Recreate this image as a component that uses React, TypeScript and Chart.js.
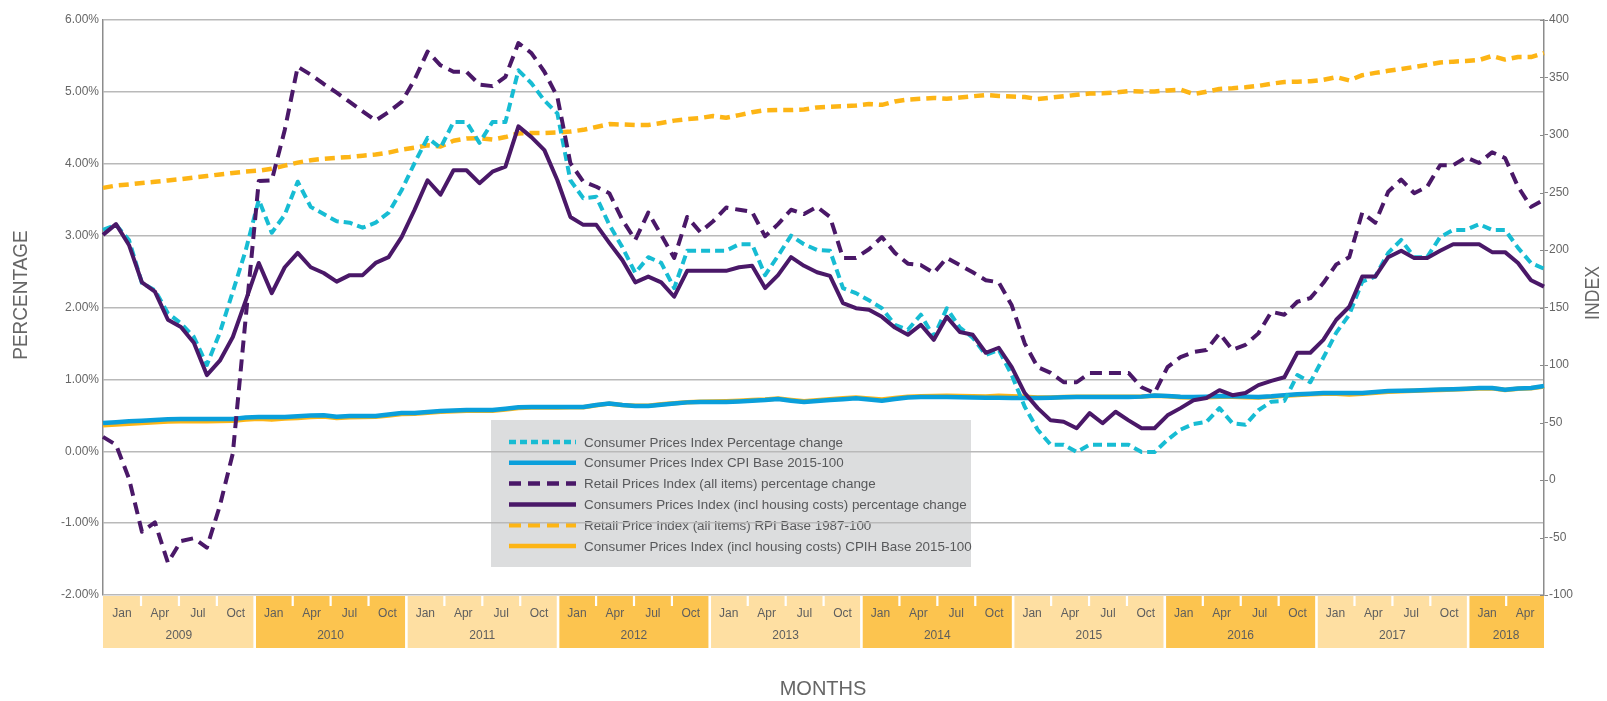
import { useEffect, useRef } from 'react';
import { Chart, registerables } from 'chart.js';

Chart.register(...registerables);

const W = 1607;
const H = 701;
const FONT = '"Liberation Sans", Arial, Helvetica, sans-serif';
const TEXT = '#666666';

const CYAN = '#17BCD3';
const BLUE = '#0A9FDB';
const PURPLE = '#4A1868';
const ORANGE = '#FDB515';

// ---------- data (Jan 2009 .. Apr 2018, monthly) ----------
const monthNames = ['Jan', 'Feb', 'Mar', 'Apr', 'May', 'Jun', 'Jul', 'Aug', 'Sep', 'Oct', 'Nov', 'Dec'];
const firstYear = 2009;

const cpiPct = [
  3.08, 3.15, 2.94, 2.34, 2.24, 1.92, 1.78, 1.59, 1.2, 1.65, 2.22, 2.8,
  3.5, 3.04, 3.29, 3.75, 3.4, 3.3, 3.2, 3.18, 3.11, 3.18, 3.32, 3.63,
  4.01, 4.36, 4.22, 4.58, 4.58, 4.29, 4.58, 4.58, 5.3, 5.12, 4.88, 4.7,
  3.77, 3.52, 3.54, 3.15, 2.84, 2.48, 2.7, 2.62, 2.27, 2.79, 2.79, 2.79,
  2.79, 2.88, 2.88, 2.45, 2.72, 3.0, 2.88, 2.8, 2.79, 2.27, 2.2, 2.1,
  1.99, 1.76, 1.69, 1.9, 1.59, 1.99, 1.72, 1.58, 1.34, 1.41, 1.06, 0.62,
  0.3, 0.09, 0.09, -0.01, 0.09, 0.09, 0.09, 0.09, -0.01, -0.01, 0.16, 0.3,
  0.38, 0.41, 0.6, 0.39, 0.37, 0.57, 0.69, 0.7, 1.06, 0.96, 1.3, 1.65,
  1.9, 2.36, 2.43, 2.76, 2.94, 2.7, 2.7, 2.98, 3.08, 3.08, 3.16, 3.08,
  3.08, 2.83, 2.62, 2.54,
];

const cpiIndex = [
  49.6, 50.3, 51, 51.6, 52.2, 52.8, 53, 53, 53, 53, 53, 54.3,
  54.8, 54.8, 54.8, 55.5, 56, 56.3, 55, 55.6, 55.6, 55.6, 57, 58.3,
  58.3, 59.2, 60, 60.5, 60.9, 60.9, 60.9, 62, 63.2, 63.5, 63.5, 63.5,
  63.5, 63.5, 65.2, 66.5, 65.2, 64.3, 64.3, 65.5, 66.5, 67.5, 67.8, 67.8,
  67.8, 68.3, 69, 69.5, 70.4, 69, 67.8, 68.6, 69.5, 70.3, 71, 70,
  69, 70.5, 71.8, 72.2, 72.2, 72.2, 72, 71.8, 71.6, 71.5, 71.4, 71.3,
  71.3, 71.6, 72, 72.2, 72.2, 72.2, 72.2, 72.2, 72.5, 73.5, 73, 72.4,
  72.2, 72.5, 73, 72.8, 72.5, 72.2, 72.8, 73.8, 74.5, 75, 75.6, 75.6,
  75.6, 75.6, 76.5, 77.3, 77.6, 77.9, 78.3, 78.6, 79, 79.4, 80, 80,
  78.5, 79.6, 80, 81.7,
];

const rpiPct = [
  0.2, 0.09, -0.38, -1.12, -0.99, -1.55, -1.25, -1.21, -1.34, -0.76, -0.03, 1.87,
  3.76, 3.77, 4.47, 5.35, 5.24, 5.11, 4.99, 4.86, 4.73, 4.6, 4.72, 4.86,
  5.17, 5.56, 5.37, 5.28, 5.28, 5.1, 5.08, 5.21, 5.68, 5.54, 5.28, 4.93,
  4.01, 3.75, 3.68, 3.59, 3.22, 2.94, 3.32, 3.01, 2.69, 3.26, 3.05, 3.2,
  3.39, 3.36, 3.33, 2.99, 3.16, 3.36, 3.3, 3.4, 3.26, 2.69, 2.69, 2.81,
  2.98, 2.76, 2.61, 2.59, 2.48, 2.69, 2.59, 2.49, 2.38, 2.35, 2.03, 1.5,
  1.17, 1.09, 0.96, 0.96, 1.09, 1.09, 1.09, 1.09, 0.89, 0.81, 1.17, 1.31,
  1.38, 1.41, 1.64, 1.41, 1.48, 1.64, 1.94, 1.9, 2.08, 2.13, 2.34, 2.6,
  2.7, 3.32, 3.18, 3.61, 3.78, 3.59, 3.68, 3.98, 3.98, 4.09, 4.01, 4.16,
  4.08, 3.68, 3.4, 3.5,
];

const cpihPct = [
  3.01, 3.16, 2.87, 2.35, 2.22, 1.83, 1.73, 1.51, 1.06, 1.26, 1.59, 2.1,
  2.62, 2.2, 2.56, 2.76, 2.56, 2.48, 2.36, 2.45, 2.45, 2.62, 2.7, 2.98,
  3.36, 3.77, 3.57, 3.91, 3.91, 3.73, 3.89, 3.96, 4.52, 4.37, 4.19, 3.77,
  3.26, 3.15, 3.15, 2.9, 2.66, 2.35, 2.43, 2.35, 2.15, 2.51, 2.51, 2.51,
  2.51, 2.56, 2.58, 2.27, 2.45, 2.7, 2.58, 2.49, 2.44, 2.06, 1.99, 1.97,
  1.87, 1.72, 1.62, 1.76, 1.55, 1.87, 1.66, 1.62, 1.37, 1.44, 1.17, 0.81,
  0.6, 0.43, 0.41, 0.32, 0.53, 0.39, 0.55, 0.43, 0.32, 0.32, 0.5, 0.6,
  0.71, 0.74, 0.85, 0.78, 0.81, 0.92, 0.98, 1.03, 1.37, 1.37, 1.55, 1.83,
  2.01, 2.43, 2.43, 2.7, 2.79, 2.69, 2.69, 2.79, 2.88, 2.88, 2.88, 2.77,
  2.77, 2.62, 2.38, 2.29,
];

const rpiIndex = [
  254, 256, 257, 258.3, 259.3, 260.5, 261.6, 263, 264.3, 265.7, 267, 268.2,
  269, 270.6, 273.4, 276, 278, 279.3, 280.1, 280.9, 282, 283, 284.7, 287.3,
  289, 291, 290, 295, 297, 297.3, 296, 298.2, 301.4, 301.7, 301.7, 302.2,
  303, 304.5, 307, 309.5, 309.1, 308.7, 308.7, 310.5, 312.5, 313.8, 314.8, 316.5,
  315, 317.3, 319.8, 321.5, 321.7, 321.7, 322.2, 324, 324.6, 325, 325.6, 326.9,
  326.2, 329.2, 330.8, 331.5, 332.2, 331.6, 332.6, 333.7, 334.7, 334, 333.5, 333,
  331.3, 332.5, 333.6, 335, 336, 336.2, 336.9, 338.2, 337.8, 337.8, 338.8, 339.5,
  335.7, 337.6, 340, 340.6, 341.5, 342.7, 344.6, 346.1, 346.4, 346.8, 348, 350.3,
  347.5, 352, 354, 355.8, 357.4, 359.2, 361, 363, 363.8, 364.3, 365.2, 368.7,
  365.6, 367.8, 367.8, 371.3,
];

const cpihIndex = [
  47.6, 48.3, 49, 49.6, 50.2, 50.8, 51, 51, 51, 51.2, 51.5, 52.5,
  53.3, 52.5, 53.5, 54, 54.8, 55.3, 54, 54.6, 54.8, 55, 56, 57.3,
  57.6, 58.5, 59.3, 59.8, 60.2, 60.2, 60.3, 61.4, 62.6, 63, 63, 63,
  63.2, 63.3, 65, 66.4, 65.2, 64.5, 64.6, 65.8, 66.7, 67.6, 68, 68.2,
  68.5, 69, 69.6, 70, 70.8, 69.5, 68.4, 69.3, 70.2, 71, 71.7, 70.8,
  70, 71.3, 72.5, 72.9, 73, 73.2, 73, 72.8, 72.6, 73.3, 72.8, 72.3,
  71.8, 71.8, 72.2, 72.4, 72.4, 72.4, 72.4, 72.4, 72.6, 73.3, 72.8, 72,
  71.8, 72, 72.4, 72.3, 72, 71.8, 72.3, 73.2, 73.9, 74.5, 75, 74.9,
  74.4, 75, 75.8, 76.8, 77.2, 77.6, 78, 78.3, 78.7, 79.1, 79.6, 79.7,
  78.3, 79.3, 79.7, 81.2,
];

// month/year band under the plot
const bandYears = ['2009', '2010', '2011', '2012', '2013', '2014', '2015', '2016', '2017', '2018'];
const bandMonthsPerYear = [12, 12, 12, 12, 12, 12, 12, 12, 12, 6];
const quarterLabels = ['Jan', 'Apr', 'Jul', 'Oct'];

const leftTicks = { min: -2, max: 6, step: 1 };
const rightTicks = { min: -100, max: 400, step: 50 };

const months = cpiPct.map((_, i) => `${monthNames[i % 12]} ${firstYear + Math.floor(i / 12)}`);

const seriesDefs = [
  { label: 'Consumer Prices Index Percentage change', data: cpiPct, color: CYAN, dash: [9, 5], legendDash: [7, 4], axis: 'y', order: 3 },
  { label: 'Consumer Prices Index CPI Base 2015-100', data: cpiIndex, color: BLUE, dash: [], legendDash: [], axis: 'y1', order: 4 },
  { label: 'Retail Prices Index (all items) percentage change', data: rpiPct, color: PURPLE, dash: [12, 7], legendDash: [12, 7], axis: 'y', order: 1 },
  { label: 'Consumers Prices Index (incl housing costs) percentage change', data: cpihPct, color: PURPLE, dash: [], legendDash: [], axis: 'y', order: 2 },
  { label: 'Retail Price Index (all items) RPI Base 1987-100', data: rpiIndex, color: ORANGE, dash: [10, 6], legendDash: [12, 7], axis: 'y1', order: 6 },
  { label: 'Consumer Prices Index (incl housing costs) CPIH Base 2015-100', data: cpihIndex, color: ORANGE, dash: [], legendDash: [], axis: 'y1', order: 5 },
];

const PLOT = { left: 103, right: 1544, top: 20, bottom: 595 };

function rotatedTitle(ctx: CanvasRenderingContext2D, text: string, x: number, y: number, squeeze: number) {
  ctx.save();
  ctx.translate(x, y);
  ctx.rotate(-Math.PI / 2);
  ctx.scale(squeeze, 1);
  ctx.fillText(text, 0, 0);
  ctx.restore();
}

const decorPlugin = {
  id: 'decor',
  beforeDraw(chart: any) {
    const ctx = chart.ctx as CanvasRenderingContext2D;
    ctx.save();
    ctx.fillStyle = '#ffffff';
    ctx.fillRect(0, 0, chart.width, chart.height);
    // legend box (drawn beneath grid lines, as in the reference)
    const bx = 491, by = 420, bw = 480, bh = 147;
    ctx.fillStyle = '#DCDDDE';
    ctx.fillRect(bx, by, bw, bh);
    ctx.font = `13.4px ${FONT}`;
    ctx.textBaseline = 'middle';
    ctx.textAlign = 'left';
    seriesDefs.forEach((s, i) => {
      const y = 442 + i * 20.8;
      ctx.beginPath();
      ctx.setLineDash(s.legendDash);
      ctx.lineWidth = 4.5;
      ctx.strokeStyle = s.color;
      ctx.lineCap = 'butt';
      ctx.moveTo(509, y);
      ctx.lineTo(576, y);
      ctx.stroke();
      ctx.setLineDash([]);
      ctx.fillStyle = '#58595B';
      ctx.fillText(s.label, 584, y + 1);
    });
    ctx.restore();
  },
  afterDraw(chart: any) {
    const ctx = chart.ctx as CanvasRenderingContext2D;
    const ca = chart.chartArea;
    ctx.save();
    // inner halves of right-axis tick marks
    const y1 = chart.scales.y1;
    ctx.strokeStyle = '#8A8A8A';
    ctx.lineWidth = 1;
    y1.ticks.forEach((t: any) => {
      const y = Math.round(y1.getPixelForValue(t.value)) + 0.5;
      ctx.beginPath();
      ctx.moveTo(ca.right - 4, y);
      ctx.lineTo(ca.right, y);
      ctx.stroke();
    });

    // month / year band
    const total = bandMonthsPerYear.reduce((a, b) => a + b, 0);
    const slot = (ca.right - ca.left) / total;
    const top = ca.bottom + 1;
    const bandH = 52;
    let idx = 0;
    bandYears.forEach((yr, i) => {
      const n = bandMonthsPerYear[i];
      const x0 = ca.left + idx * slot;
      const x1 = ca.left + (idx + n) * slot;
      ctx.fillStyle = i % 2 === 0 ? '#FEDFA2' : '#FCC44F';
      ctx.fillRect(x0, top, x1 - x0, bandH);
      // quarter separators
      ctx.fillStyle = '#ffffff';
      for (let q = 1; q * 3 < n; q++) {
        const xs = x0 + q * 3 * slot;
        ctx.fillRect(xs - 1, top, 2.2, 10);
      }
      // year separator
      if (i > 0) ctx.fillRect(x0 - 1.3, top, 2.6, bandH);
      // labels
      ctx.fillStyle = '#5E5E5E';
      ctx.font = `12px ${FONT}`;
      ctx.textAlign = 'center';
      ctx.textBaseline = 'middle';
      for (let q = 0; q * 3 < n; q++) {
        ctx.fillText(quarterLabels[q], x0 + (q * 3 + 1.5) * slot, top + 18);
      }
      ctx.fillText(yr, (x0 + x1) / 2, top + 40);
      idx += n;
    });

    // axis titles
    ctx.fillStyle = '#666666';
    ctx.font = `20px ${FONT}`;
    ctx.textAlign = 'center';
    ctx.textBaseline = 'middle';
    ctx.fillText('MONTHS', 823, 689);
    rotatedTitle(ctx, 'PERCENTAGE', 21, 295, 0.95);
    rotatedTitle(ctx, 'INDEX', 1593, 293, 0.88);
    ctx.restore();
  },
};

export default function App() {
  const ref = useRef<HTMLCanvasElement>(null);
  useEffect(() => {
    const canvas = ref.current;
    if (!canvas) return;
    Chart.defaults.font.family = FONT;
    const chart = new Chart(canvas, {
      type: 'line',
      data: {
        labels: months,
        datasets: seriesDefs.map((s) => ({
          label: s.label,
          data: s.data,
          borderColor: s.color,
          backgroundColor: s.color,
          borderDash: s.dash,
          borderWidth: s.axis === 'y1' ? 4.5 : 4,
          borderCapStyle: 'butt' as const,
          borderJoinStyle: 'round' as const,
          yAxisID: s.axis,
          pointRadius: 0,
          pointHoverRadius: 0,
          tension: 0,
          fill: false,
          order: s.order,
        })),
      },
      options: {
        animation: false,
        responsive: false,
        events: [],
        layout: { padding: { top: PLOT.top, bottom: H - PLOT.bottom, left: 0, right: 0 } },
        plugins: { legend: { display: false }, tooltip: { enabled: false } },
        scales: {
          x: { type: 'category', display: false, offset: false },
          y: {
            position: 'left',
            min: leftTicks.min,
            max: leftTicks.max,
            afterFit: (s: any) => { s.width = PLOT.left; },
            ticks: {
              stepSize: leftTicks.step,
              callback: (v: any) => `${Number(v).toFixed(2)}%`,
              font: { size: 12, family: FONT },
              color: TEXT,
              padding: 4,
            },
            grid: { color: '#B9B9B9', lineWidth: 1.5, drawTicks: false },
            border: { display: true, color: '#8C8C8C', width: 1.5 },
          },
          y1: {
            position: 'right',
            min: rightTicks.min,
            max: rightTicks.max,
            afterFit: (s: any) => { s.width = W - PLOT.right; },
            ticks: {
              stepSize: rightTicks.step,
              font: { size: 12, family: FONT },
              color: TEXT,
              padding: 1,
            },
            grid: { drawOnChartArea: false, drawTicks: true, tickLength: 4, color: '#8A8A8A' },
            border: { display: true, color: '#8C8C8C', width: 1.5 },
          },
        },
      },
      plugins: [decorPlugin],
    });
    return () => chart.destroy();
  }, []);
  return (
    <div style={{ position: 'fixed', left: 0, top: 0, width: W, height: H, background: '#fff' }}>
      <canvas ref={ref} width={W} height={H} style={{ width: W, height: H, display: 'block' }} />
    </div>
  );
}
